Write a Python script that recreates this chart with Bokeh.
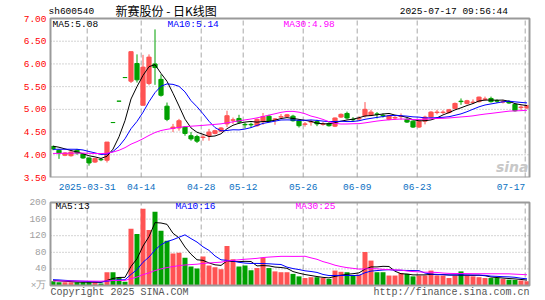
from bokeh.plotting import figure
from bokeh.models import FixedTicker, Label, NumeralTickFormatter, Range1d, ColumnDataSource
from bokeh.layouts import column
from bokeh.embed import file_html
from bokeh.resources import INLINE
import numpy as np

# ---------------- data ----------------
code = "sh600540"
title_text = "新赛股份 - 日K线图"
timestamp = "2025-07-17 09:56:44"

date_idx = [6, 15, 25, 32, 42, 51, 61, 79]
date_text = ["2025-03-31", "04-14", "04-28", "05-12", "05-26", "06-09", "06-23", "07-17"]

opens = [4.18, 4.10, 3.99, 3.98, 4.10, 4.01, 3.93, 3.84, 3.90, 3.88,
         4.71, 5.18, 5.70, 5.62, 6.01, 5.09, 5.57, 6.00, 5.66, 5.07,
         4.58, 4.59, 4.61, 4.42, 4.40, 4.38, 4.42, 4.47, 4.52, 4.68,
         4.76, 4.80, 4.67, 4.67, 4.64, 4.73, 4.85, 4.78, 4.83, 4.84,
         4.85, 4.75, 4.67, 4.72, 4.73, 4.67, 4.69, 4.63, 4.83, 4.91,
         4.78, 4.79, 4.86, 4.87, 4.90, 4.87, 4.78, 4.81, 4.84, 4.78,
         4.74, 4.61, 4.74, 4.83, 4.93, 4.93, 4.93, 5.02, 5.18, 5.13,
         5.15, 5.17, 5.22, 5.24, 5.19, 5.16, 5.17, 5.11, 5.04, 5.03]
highs = [4.20, 4.12, 4.06, 4.08, 4.13, 4.03, 3.94, 3.93, 3.93, 4.28,
         4.71, 5.18, 5.70, 6.27, 6.21, 6.20, 6.21, 6.76, 5.77, 5.15,
         4.68, 4.79, 4.63, 4.50, 4.44, 4.45, 4.57, 4.55, 4.61, 4.97,
         4.82, 4.88, 4.71, 4.71, 4.80, 4.92, 4.88, 4.81, 4.90, 4.90,
         4.88, 4.78, 4.72, 4.77, 4.77, 4.72, 4.72, 4.82, 4.91, 4.95,
         4.83, 4.85, 5.16, 4.99, 4.94, 4.91, 4.88, 4.85, 4.91, 4.81,
         4.76, 4.75, 4.86, 4.96, 4.99, 4.98, 5.01, 5.15, 5.24, 5.21,
         5.22, 5.28, 5.28, 5.28, 5.22, 5.21, 5.20, 5.13, 5.09, 5.10]
lows = [4.10, 3.91, 3.97, 3.96, 4.00, 3.91, 3.76, 3.82, 3.86, 3.83,
        4.71, 5.18, 5.70, 5.58, 5.59, 5.09, 5.53, 5.54, 5.28, 4.74,
        4.50, 4.53, 4.42, 4.31, 4.26, 4.31, 4.31, 4.45, 4.50, 4.61,
        4.68, 4.68, 4.58, 4.60, 4.62, 4.66, 4.72, 4.66, 4.79, 4.82,
        4.73, 4.60, 4.62, 4.64, 4.63, 4.64, 4.62, 4.61, 4.81, 4.78,
        4.73, 4.75, 4.82, 4.85, 4.80, 4.82, 4.76, 4.77, 4.77, 4.70,
        4.59, 4.59, 4.67, 4.81, 4.89, 4.90, 4.91, 5.00, 5.10, 5.11,
        5.12, 5.15, 5.19, 5.15, 5.14, 5.13, 5.12, 4.95, 4.98, 5.01]
closes = [4.13, 4.04, 4.04, 4.06, 4.04, 3.93, 3.82, 3.92, 3.89, 4.28,
          4.71, 5.18, 5.70, 6.27, 5.65, 5.93, 6.15, 5.92, 5.31, 4.78,
          4.61, 4.75, 4.47, 4.35, 4.30, 4.39, 4.50, 4.53, 4.59, 4.86,
          4.77, 4.72, 4.66, 4.66, 4.78, 4.84, 4.74, 4.79, 4.84, 4.88,
          4.75, 4.64, 4.68, 4.73, 4.68, 4.68, 4.64, 4.81, 4.89, 4.81,
          4.77, 4.80, 5.00, 4.94, 4.89, 4.86, 4.86, 4.82, 4.85, 4.72,
          4.61, 4.74, 4.83, 4.94, 4.94, 4.94, 4.99, 5.13, 5.17, 5.19,
          5.16, 5.27, 5.23, 5.17, 5.18, 5.17, 5.14, 4.97, 5.05, 5.08]
volumes = [10, 8, 8, 8, 8, 8, 8, 8, 5, 32,
           32, 20, 9, 137, 124, 185, 134, 178, 132, 108,
           77, 79, 67, 46, 41, 70, 48, 44, 39, 95,
           63, 46, 48, 37, 42, 67, 42, 34, 32, 32,
           28, 22, 18, 20, 20, 18, 16, 36, 33, 32,
           25, 26, 81, 60, 32, 32, 24, 24, 30, 28,
           22, 24, 24, 36, 24, 24, 18, 24, 34, 24,
           22, 20, 18, 18, 18, 16, 14, 13, 12, 10]
# sessions before the visible window (estimated from where the MA lines start)
prior_closes = [3.96, 3.98, 4.00, 3.97, 3.95, 3.98, 4.01, 3.99, 3.97, 3.99,
                4.00, 3.98, 3.96, 3.98, 4.00, 3.99, 4.01, 3.98, 3.97, 4.00,
                4.02, 4.04, 4.06, 4.05, 4.08, 4.16, 4.22, 4.24, 4.20]
prior_volumes = [9, 10, 8, 11, 9, 10, 12, 9, 8, 10,
                 9, 11, 10, 9, 8, 10, 9, 11, 9, 8,
                 14, 18, 16, 15, 14, 15, 13, 12, 13]

price_ticks = [3.5, 4.0, 4.5, 5.0, 5.5, 6.0, 6.5, 7.0]
vol_ticks = [0, 40, 80, 120, 160, 200]
vol_unit = "×万"

# ---------------- helpers ----------------
N = len(closes)
xs = np.arange(N)
P = len(prior_closes)


def mavg(prior, series, n):
    full = np.array(list(prior) + list(series), dtype=float)
    return [full[P + i - n + 1:P + i + 1].mean() for i in range(len(series))]


ma5 = mavg(prior_closes, closes, 5)
ma10 = mavg(prior_closes, closes, 10)
ma30 = mavg(prior_closes, closes, 30)
vma5 = mavg(prior_volumes, volumes, 5)
vma10 = mavg(prior_volumes, volumes, 10)
vma30 = mavg(prior_volumes, volumes, 30)

RED = "#ff5353"
GREEN = "#00a000"
GRID = "#a8a8a8"
BOX = "#9a9a9a"
colors = [RED if c > o else GREEN for o, c in zip(opens, closes)]

src = ColumnDataSource(dict(
    x=xs, o=opens, h=highs, l=lows, c=closes,
    top=np.maximum(opens, closes), bot=np.minimum(opens, closes),
    left=xs - 0.35, right=xs + 0.35, vol=volumes, color=colors,
    ma5=ma5, ma10=ma10, ma30=ma30, vma5=vma5, vma10=vma10, vma30=vma30))

MONO = "Liberation Mono"
FS = "9.5px"
PX = 6.0                      # pixels per session
grid_x = [i - 0.3 for i in date_idx]
XL, XR = -2.5 / PX, N - 1 + 2.5 / PX      # panel box edges (sessions)
xr = Range1d(XL - 2 / PX, XR + 2 / PX)    # frame 2px wider than the box

# price: 3.5 .. 7.0 over 159 px, frame extended 18 px above for the header
ppx = 159 / 3.5
p_range = Range1d(3.5, 7.0 + 18 / ppx)
# volume: 0 .. 200 over 83 px, frame extended 9 px above and 15 px below
vpx = 83 / 200
v_range = Range1d(0 - 15 / vpx, 200 + 9 / vpx)


def style_yaxis(ax, ticks, color):
    ax.ticker = FixedTicker(ticks=ticks)
    ax.major_label_text_color = color
    ax.major_label_text_font = MONO
    ax.major_label_text_font_size = FS
    ax.axis_line_color = None
    ax.major_tick_line_color = None
    ax.minor_tick_line_color = None
    ax.major_tick_out = 0
    ax.major_label_standoff = 2


def panel_grid(fig, lo, hi, hticks):
    fig.xgrid.visible = False
    fig.ygrid.visible = False
    fig.segment(x0=[XL] * len(hticks), y0=hticks, x1=[XR] * len(hticks), y1=hticks,
                line_color=GRID, line_width=1, line_dash="1 2")
    fig.segment(x0=grid_x, y0=[lo] * len(grid_x), x1=grid_x, y1=[hi] * len(grid_x),
                line_color=GRID, line_width=1, line_dash="5 3")


def panel_box(fig, lo, hi):
    fig.quad(left=[XL], right=[XR], top=[hi], bottom=[lo], fill_color=None,
             line_color=BOX, line_width=2)


def lab(fig, x, y, text, color="black", align="left", font=MONO, size=FS, style="normal"):
    fig.add_layout(Label(x=x, y=y, x_units="screen", y_units="screen", text=text,
                         text_color=color, text_align=align, text_baseline="middle",
                         text_font=font, text_font_size=size, text_font_style=style))


# ---------------- price panel ----------------
p = figure(frame_width=483, frame_height=177, x_range=xr, y_range=p_range,
           min_border_left=48, min_border_right=14, min_border_top=0, min_border_bottom=16,
           output_backend="svg", toolbar_location=None)
p.background_fill_color = "white"
p.border_fill_color = "white"
p.outline_line_color = None
panel_grid(p, 3.5, 7.0, [4.0, 4.5, 5.0, 5.5, 6.0, 6.5])

ya = p.yaxis[0]
style_yaxis(ya, price_ticks, "#ff0000")
ya.formatter = NumeralTickFormatter(format="0.00")

# date labels: last one is right-aligned on its grid line
last_label_x = grid_x[-1] - len(date_text[-1]) * 5.7 / 2 / PX
tick_x = grid_x[:-1] + [last_label_x]
xa = p.xaxis[0]
xa.ticker = FixedTicker(ticks=tick_x)
xa.major_label_overrides = {t: s for t, s in zip(tick_x, date_text)}
xa.major_label_text_color = "#0a6fc2"
xa.major_label_text_font = MONO
xa.major_label_text_font_size = FS
xa.axis_line_color = None
xa.major_tick_line_color = None
xa.minor_tick_line_color = None
xa.major_tick_out = 0
xa.major_label_standoff = 6

p.segment(x0="x", y0="h", x1="x", y1="l", color="color", line_width=1, source=src)
p.quad(left="left", right="right", top="top", bottom="bot", fill_color="color",
       line_color="color", line_width=1, source=src)
p.line("x", "ma5", color="black", line_width=1, source=src)
p.line("x", "ma10", color="#0000ff", line_width=1, source=src)
p.line("x", "ma30", color="#ff00ff", line_width=1, source=src)
panel_box(p, 3.5, 7.0)

# texts (screen px relative to the frame's bottom-left corner)
lab(p, 0, 166.5, code)
lab(p, 67, 167.5, title_text, font="Noto Sans CJK SC", size="12px")
lab(p, 459.5, 166.5, timestamp, align="right")
lab(p, 4, 153.3, "MA5:%.2f" % ma5[-1])
lab(p, 119, 153.3, "MA10:%.2f" % ma10[-1], color="#0000ff")
lab(p, 235, 153.3, "MA30:%.2f" % ma30[-1], color="#ff00ff")
lab(p, 480, 11, "sina", color="#c8c8c8", align="right", font="DejaVu Sans", size="14px",
    style="bold italic")

# ---------------- volume panel ----------------
v = figure(frame_width=483, frame_height=107, x_range=xr, y_range=v_range,
           min_border_left=48, min_border_right=14, min_border_top=0, min_border_bottom=0,
           x_axis_location=None, output_backend="svg", toolbar_location=None)
v.background_fill_color = "white"
v.border_fill_color = "white"
v.outline_line_color = None
panel_grid(v, 0, 200, [40, 80, 120, 160])

vy = v.yaxis[0]
style_yaxis(vy, vol_ticks, "#a0a0a0")
vy.major_label_overrides = {0: vol_unit}

v.vbar(x="x", top="vol", bottom=0, width=5 / PX, fill_color="color", line_color=None, source=src)
v.line("x", "vma5", color="black", line_width=1, source=src)
v.line("x", "vma10", color="#0000ff", line_width=1, source=src)
v.line("x", "vma30", color="#ff00ff", line_width=1, source=src)
panel_box(v, 0, 200)

lab(v, 7, 93.7, "MA5:%d" % int(vma5[-1]))
lab(v, 127, 93.7, "MA10:%d" % int(vma10[-1]), color="#0000ff")
lab(v, 247, 93.7, "MA30:%d" % int(vma30[-1]), color="#ff00ff")
lab(v, 2, 8, "Copyright 2025 SINA.COM", color="#555555", size="10px")
lab(v, 481, 8, "http://finance.sina.com.cn", color="#555555", align="right", size="10px")

layout = column(p, v, spacing=0)
open("out.html", "w").write(file_html(layout, INLINE))
